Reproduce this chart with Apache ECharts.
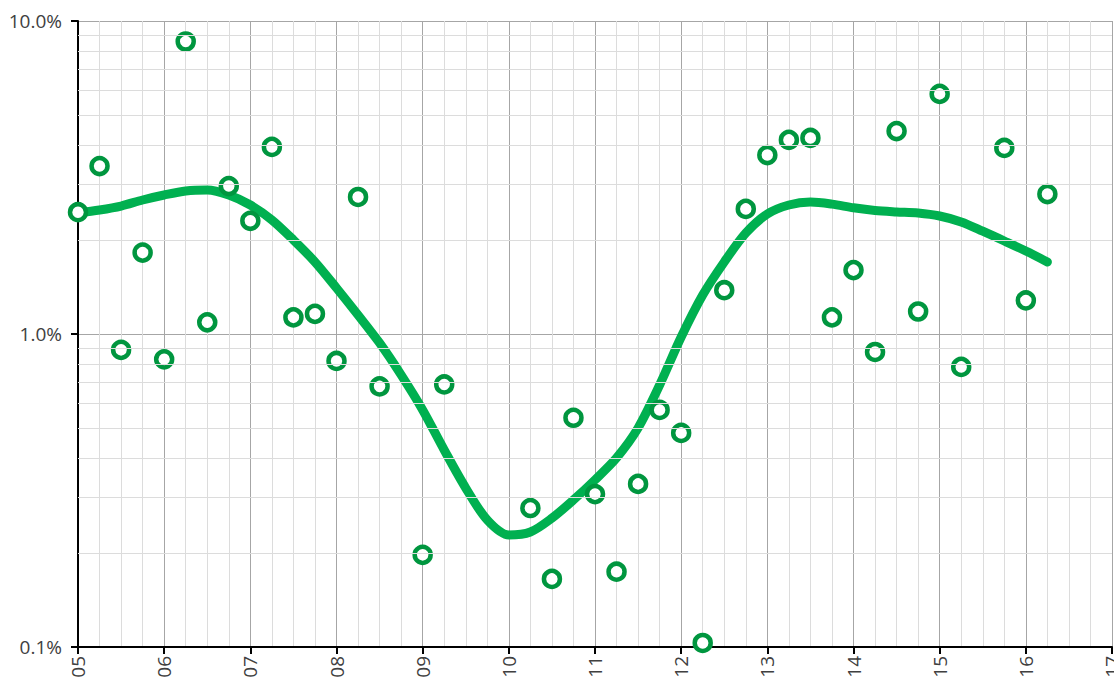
<!DOCTYPE html>
<html>
<head>
<meta charset="utf-8">
<style>
  html, body { margin: 0; padding: 0; background: #fff; }
  #chart { width: 1114px; height: 681px; }
</style>
<script src="https://cdn.jsdelivr.net/npm/echarts@6/dist/echarts.min.js"></script>
</head>
<body>
<div id="chart"></div>
<script>
// observed points (x in units, y in percent)
var pointX = [5.0, 5.25, 5.5, 5.75, 6.0, 6.25, 6.5, 6.75, 7.0, 7.25, 7.5, 7.75, 8.0, 8.25, 8.5,
              9.0, 9.25, 10.25, 10.5, 10.75, 11.0, 11.25, 11.5, 11.75, 12.0, 12.25, 12.5, 12.75,
              13.0, 13.25, 13.5, 13.75, 14.0, 14.25, 14.5, 14.75, 15.0, 15.25, 15.75, 16.0, 16.25];
var pointY = [2.45, 3.44, 0.89, 1.82, 0.83, 8.6, 1.09, 2.97, 2.30, 3.96, 1.13, 1.16, 0.82, 2.74, 0.68,
              0.197, 0.69, 0.278, 0.165, 0.54, 0.308, 0.174, 0.332, 0.572, 0.483, 0.103, 1.38, 2.51,
              3.73, 4.17, 4.23, 1.13, 1.60, 0.876, 4.45, 1.18, 5.85, 0.785, 3.93, 1.28, 2.80];

// smoothed trend, read every quarter step
var trendX = [5.0, 5.25, 5.5, 5.75, 6.0, 6.25, 6.5, 6.75, 7.0, 7.25, 7.5, 7.75, 8.0, 8.25, 8.5, 8.75,
              9.0, 9.25, 9.5, 9.75, 10.0, 10.25, 10.5, 10.75, 11.0, 11.25, 11.5, 11.75, 12.0, 12.25,
              12.5, 12.75, 13.0, 13.25, 13.5, 13.75, 14.0, 14.25, 14.5, 14.75, 15.0, 15.25, 15.5,
              15.75, 16.0, 16.25];
var trendY = [2.436, 2.49, 2.564, 2.68, 2.78, 2.863, 2.884, 2.78, 2.583, 2.314, 1.997, 1.699, 1.403, 1.15, 0.936, 0.74,
              0.572, 0.426, 0.322, 0.2545, 0.228, 0.233, 0.258, 0.295, 0.342, 0.402, 0.501, 0.687, 0.978, 1.332,
              1.699, 2.102, 2.418, 2.583, 2.64, 2.6, 2.53, 2.48, 2.455, 2.436, 2.382, 2.28, 2.13,
              1.982, 1.841, 1.699];

// minor log gridlines
var minorLevels = [0.2, 0.3, 0.4, 0.5, 0.6, 0.7, 0.8, 0.9, 2, 3, 4, 5, 6, 7, 8, 9];

var ink = '#404040';
var lineGreen = '#00b050';
var dotGreen = '#00963f';
var majorGrid = '#a6a6a6';
var minorGrid = '#dcdcdc';
var font = 'Open Sans';

function pairs(xs, ys) {
  return xs.map(function(x, i) { return [x, ys[i]]; });
}

var chart = echarts.init(document.getElementById('chart'), null, { renderer: 'svg' });
chart.setOption({
  animation: false,
  backgroundColor: '#fff',
  grid: { left: 78, right: 2, top: 21, bottom: 34, containLabel: false, outerBoundsMode: 'none' },
  xAxis: {
    type: 'value',
    min: 5, max: 17, interval: 1,
    axisLine: { show: true, onZero: false, lineStyle: { color: '#000', width: 2 } },
    axisTick: { show: true, length: 7, lineStyle: { color: '#000', width: 2 } },
    axisLabel: {
      rotate: 90, margin: 9, color: ink, fontSize: 19, fontFamily: font,
      formatter: function(v) { return '{t|' + (v < 10 ? '0' : '') + v + '}'; },
      rich: { t: { fontSize: 19, fontFamily: font, color: ink } }
    },
    splitLine: { show: true, lineStyle: { color: majorGrid, width: 1 } },
    minorTick: { show: false, splitNumber: 4 },
    minorSplitLine: { show: true, lineStyle: { color: minorGrid, width: 1 } }
  },
  yAxis: {
    type: 'log',
    logBase: 10,
    min: 0.1, max: 10,
    axisLine: { show: true, lineStyle: { color: '#000', width: 2 } },
    axisTick: { show: true, length: 7, lineStyle: { color: '#000', width: 2 } },
    axisLabel: {
      margin: 16, color: ink, fontSize: 19, fontFamily: font,
      formatter: function(v) { return '{t|' + Number(v).toFixed(1) + '%}'; },
      rich: { t: { fontSize: 19, fontFamily: font, color: ink } }
    },
    splitLine: { show: true, lineStyle: { color: majorGrid, width: 1 } }
  },
  series: [
    {
      type: 'line',
      data: [],
      z: 1,
      silent: true,
      markLine: {
        silent: true,
        symbol: 'none',
        label: { show: false },
        lineStyle: { color: minorGrid, width: 1, type: 'solid' },
        data: minorLevels.map(function(v) { return { yAxis: v }; })
      }
    },
    {
      type: 'line',
      data: pairs(trendX, trendY),
      smooth: 0.3,
      showSymbol: false,
      z: 3,
      lineStyle: { color: lineGreen, width: 9, cap: 'round' }
    },
    {
      type: 'scatter',
      data: pairs(pointX, pointY),
      z: 4,
      symbol: 'circle',
      symbolSize: 16,
      itemStyle: { color: '#fff', borderColor: dotGreen, borderWidth: 4.5, opacity: 1 }
    }
  ]
});
</script>
</body>
</html>
